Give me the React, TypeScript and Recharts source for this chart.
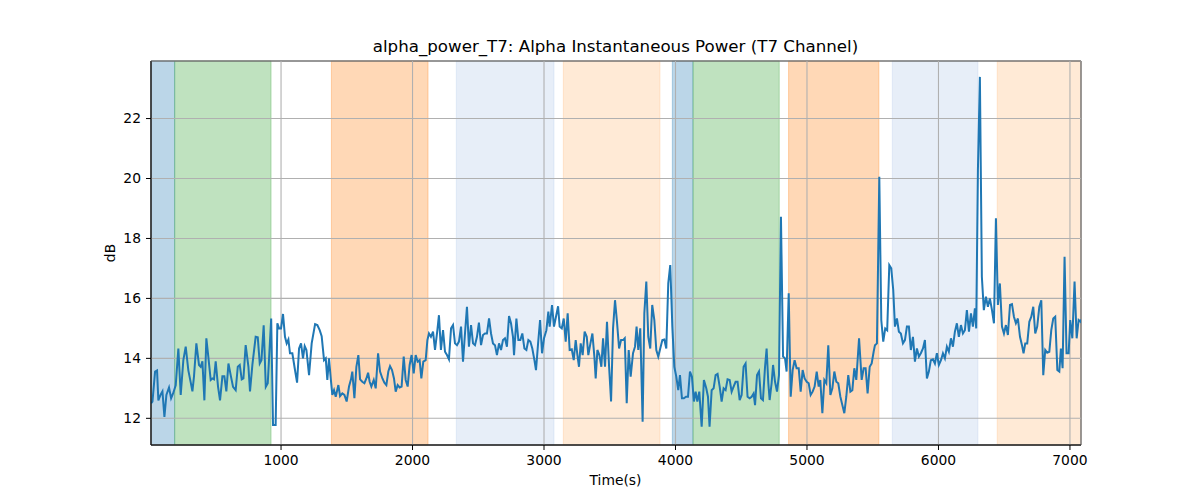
import React from 'react';
import { LineChart, Line, XAxis, YAxis, CartesianGrid, ReferenceArea } from 'recharts';

const times = [
  11, 22, 42, 57, 67, 85, 98, 113, 128, 148, 164, 179, 199, 219, 237, 257, 275, 295, 313, 326,
  338, 356, 376, 389, 402, 417, 432, 447, 465, 478, 490, 503, 521, 536, 554, 569, 584, 600, 617, 635,
  655, 671, 686, 701, 714, 731, 752, 764, 782, 807, 823, 838, 851, 868, 884, 899, 925, 939, 959, 972,
  985, 1000, 1015, 1030, 1043, 1056, 1068, 1086, 1104, 1122, 1137, 1152, 1167, 1180, 1193, 1213, 1233, 1259, 1276, 1294,
  1309, 1327, 1340, 1352, 1365, 1378, 1390, 1403, 1416, 1436, 1449, 1466, 1482, 1499, 1517, 1532, 1542, 1558, 1573, 1588,
  1601, 1618, 1634, 1649, 1662, 1674, 1687, 1705, 1720, 1738, 1753, 1771, 1786, 1801, 1816, 1829, 1844, 1859, 1872, 1887,
  1902, 1917, 1933, 1948, 1963, 1978, 1993, 2009, 2024, 2039, 2054, 2067, 2082, 2100, 2113, 2125, 2140, 2156, 2171, 2189,
  2201, 2216, 2232, 2247, 2262, 2277, 2293, 2308, 2323, 2338, 2353, 2369, 2384, 2399, 2414, 2429, 2445, 2460, 2475, 2490,
  2505, 2521, 2536, 2551, 2566, 2582, 2597, 2612, 2627, 2642, 2658, 2673, 2688, 2703, 2718, 2734, 2749, 2764, 2772, 2790,
  2805, 2820, 2835, 2851, 2866, 2881, 2896, 2911, 2927, 2939, 2955, 2970, 2985, 3000, 3018, 3033, 3043, 3061, 3076, 3091,
  3107, 3119, 3135, 3150, 3165, 3180, 3195, 3211, 3226, 3241, 3254, 3266, 3279, 3294, 3309, 3325, 3337, 3353, 3368, 3383,
  3393, 3406, 3421, 3436, 3449, 3464, 3479, 3495, 3510, 3525, 3540, 3555, 3571, 3586, 3601, 3614, 3629, 3644, 3659, 3677,
  3692, 3704, 3717, 3732, 3750, 3763, 3778, 3793, 3808, 3823, 3839, 3854, 3869, 3884, 3900, 3915, 3930, 3945, 3960, 3976,
  3991, 4006, 4021, 4034, 4049, 4064, 4080, 4095, 4110, 4125, 4140, 4153, 4166, 4181, 4199, 4216, 4234, 4247, 4259, 4275,
  4290, 4305, 4320, 4336, 4351, 4366, 4381, 4396, 4412, 4427, 4442, 4457, 4472, 4488, 4503, 4518, 4533, 4548, 4564, 4579,
  4594, 4605, 4620, 4635, 4650, 4665, 4681, 4693, 4706, 4716, 4731, 4742, 4757, 4772, 4787, 4802, 4818, 4833, 4845, 4861,
  4876, 4891, 4906, 4921, 4937, 4952, 4967, 4982, 4998, 5013, 5028, 5043, 5058, 5074, 5089, 5101, 5117, 5132, 5147, 5162,
  5178, 5193, 5208, 5223, 5238, 5254, 5269, 5284, 5299, 5314, 5330, 5345, 5360, 5375, 5396, 5416, 5431, 5446, 5461, 5477,
  5492, 5507, 5517, 5532, 5550, 5565, 5580, 5595, 5610, 5626, 5641, 5656, 5669, 5684, 5699, 5714, 5730, 5745, 5760, 5775,
  5790, 5806, 5821, 5836, 5851, 5866, 5882, 5897, 5912, 5927, 5942, 5958, 5973, 5988, 6003, 6019, 6034, 6049, 6064, 6079,
  6095, 6110, 6125, 6140, 6155, 6171, 6186, 6201, 6216, 6232, 6247, 6262, 6277, 6287, 6300, 6315, 6330, 6345, 6361, 6376,
  6391, 6407, 6422, 6437, 6452, 6467, 6483, 6498, 6513, 6528, 6544, 6559, 6574, 6589, 6604, 6620, 6635, 6647, 6660, 6675,
  6691, 6706, 6721, 6736, 6751, 6767, 6782, 6797, 6812, 6827, 6843, 6858, 6873, 6888, 6904, 6919, 6931, 6944, 6959, 6974,
  6990, 7002, 7018, 7035, 7051, 7066, 7081, 7084,
];

const values = [
  12.5, 12.56, 13.56, 13.6, 12.6, 12.8, 12.9, 12.05, 12.78, 13.03, 12.67, 12.83, 13.1, 14.33, 12.78, 13.94, 14.39, 13.6, 13.2, 12.9,
  13.4, 14.5, 13.78, 13.72, 13.9, 12.6, 14.67, 14.05, 13.28, 13.33, 13.3, 13.9, 13.05, 12.6, 13.4, 13.4, 12.9, 13.83, 13.44, 13.05,
  12.94, 13.72, 13.78, 13.3, 13.33, 14.44, 13.72, 12.9, 13.78, 14.72, 14.7, 13.83, 13.94, 15.1, 13.05, 13.17, 15.33, 11.78, 11.78, 15.17,
  15.0, 15.0, 15.48, 14.72, 14.5, 14.63, 14.17, 14.17, 13.67, 13.19, 14.33, 14.5, 14.0, 14.41, 14.28, 13.44, 14.5, 15.14, 15.11, 14.94,
  14.74, 13.94, 14.0, 13.28, 14.0, 13.33, 12.78, 12.94, 12.72, 13.11, 12.74, 12.83, 12.78, 12.56, 13.06, 13.3, 13.56, 12.67, 13.72, 14.11,
  13.3, 13.22, 13.17, 13.33, 13.52, 13.22, 13.06, 13.28, 13.0, 14.17, 13.56, 13.33, 13.19, 13.11, 13.56, 13.74, 13.61, 13.33, 12.89, 13.11,
  13.03, 13.06, 14.06, 13.28, 13.06, 13.78, 14.11, 13.5, 14.11, 13.89, 13.94, 13.33, 13.89, 13.94, 14.61, 14.83, 14.72, 14.89, 14.28, 14.94,
  15.44, 14.28, 14.94, 14.22, 14.11, 13.97, 15.0, 15.11, 14.5, 14.44, 14.56, 15.06, 13.89, 14.83, 15.72, 14.39, 15.11, 14.5, 14.44, 14.72,
  15.19, 14.44, 14.78, 14.83, 14.83, 15.33, 14.83, 14.5, 14.44, 14.11, 14.5, 14.28, 14.61, 14.67, 14.39, 15.41, 15.17, 14.72, 14.11, 15.33,
  14.61, 14.61, 14.83, 14.33, 14.28, 14.61, 14.56, 14.33, 13.94, 13.61, 14.5, 15.28, 14.17, 14.67, 14.94, 15.56, 15.06, 15.78, 15.06, 15.39,
  15.74, 15.06, 15.0, 15.33, 14.56, 15.5, 14.28, 14.3, 13.94, 14.61, 14.11, 13.72, 14.5, 14.11, 14.89, 14.72, 14.11, 14.5, 14.83, 14.06,
  13.33, 14.28, 14.11, 13.72, 14.67, 13.72, 15.22, 13.72, 12.56, 15.0, 15.94, 15.22, 14.33, 14.61, 14.61, 14.67, 12.5, 14.28, 13.39, 14.17,
  14.39, 15.06, 14.28, 15.0, 11.89, 15.5, 16.56, 14.72, 14.33, 15.78, 15.28, 14.28, 14.06, 14.33, 14.61, 14.63, 14.33, 16.5, 17.11, 15.06,
  13.72, 13.39, 12.94, 13.44, 12.67, 12.67, 12.72, 12.72, 13.56, 13.39, 12.56, 12.89, 12.56, 12.89, 11.72, 13.28, 13.0, 12.72, 11.72, 12.94,
  13.0, 13.44, 13.48, 13.06, 12.56, 13.0, 12.94, 13.3, 13.28, 12.89, 13.06, 13.22, 13.22, 12.61, 12.78, 13.72, 13.83, 12.72, 12.67, 12.72,
  12.83, 12.44, 13.44, 13.56, 12.67, 12.61, 13.72, 14.33, 13.17, 12.61, 13.17, 13.78, 13.22, 12.89, 13.44, 18.72, 14.06, 14.0, 13.56, 16.17,
  12.72, 13.61, 13.94, 13.67, 13.67, 12.89, 13.61, 13.33, 13.22, 13.17, 12.78, 12.89, 13.06, 13.56, 13.06, 13.28, 12.17, 13.28, 13.17, 14.44,
  12.78, 13.0, 13.56, 13.22, 13.17, 12.72, 12.44, 12.17, 12.72, 13.44, 12.89, 12.94, 13.67, 13.28, 14.67, 13.28, 13.67, 13.67, 12.83, 13.72,
  13.83, 14.22, 14.44, 14.5, 20.06, 15.28, 14.56, 15.0, 14.94, 17.11, 17.0, 16.28, 15.06, 15.33, 14.89, 14.83, 14.5, 14.61, 15.06, 15.06,
  14.28, 14.72, 13.89, 14.33, 14.06, 14.17, 14.33, 14.61, 13.33, 13.56, 13.94, 13.97, 13.83, 14.17, 13.78, 13.94, 14.17, 14.0, 14.39, 14.22,
  14.67, 14.39, 14.89, 15.17, 14.72, 15.11, 14.83, 14.94, 15.61, 14.89, 15.5, 15.06, 15.67, 15.0, 20.28, 23.39, 16.72, 15.61, 16.06, 15.72,
  16.0, 15.61, 15.17, 18.67, 15.78, 16.5, 15.06, 14.83, 15.11, 14.78, 15.78, 15.81, 15.39, 15.17, 15.33, 14.72, 14.44, 14.17, 14.5, 14.5,
  15.22, 15.39, 15.72, 14.83, 15.06, 15.72, 15.94, 13.44, 14.28, 14.19, 14.22, 14.94, 15.33, 15.39, 13.61, 13.56, 14.33, 13.67, 17.39, 14.17,
  14.17, 15.28, 14.67, 16.56, 14.67, 15.28, 15.22, 15.3,
];

const xTicks = [1000, 2000, 3000, 4000, 5000, 6000, 7000];
const yTicks = [12, 14, 16, 18, 20, 22];

const spanStarts = [11, 191, 1383, 2333, 3147, 3976, 4133, 4860, 5649, 6447];
const spanEnds = [191, 924, 2118, 3076, 3882, 4133, 4789, 5547, 6300, 7084];
const spanColors = [
  '#1f77b4', '#2ca02c', '#ff7f0e', '#aec7e8', '#ffbb78',
  '#1f77b4', '#2ca02c', '#ff7f0e', '#aec7e8', '#ffbb78',
];

const xDomain: [number, number] = [11, 7084];
const yDomain: [number, number] = [11.11, 23.92];

const data = times.map((t, i) => ({ t, v: values[i] }));

const FONT = 'DejaVu Sans, sans-serif';
const tickStyle = { fill: '#000', fontSize: 13.89, fontFamily: FONT };

export default function App() {
  const gridProps: any = { stroke: '#b0b0b0', strokeWidth: 1.1, zIndex: 150 };
  return (
    <div style={{ position: 'absolute', left: 0, top: 0, width: 1200, height: 500, background: '#fff', fontFamily: FONT }}>
      <LineChart width={1200} height={500} data={data} margin={{ top: 61, right: 119, bottom: 25, left: 0 }}>
        <CartesianGrid {...gridProps} />
        {spanStarts.map((s, i) => (
          <ReferenceArea
            key={i}
            x1={s}
            x2={spanEnds[i]}
            y1={yDomain[0]}
            y2={yDomain[1]}
            fill={spanColors[i]}
            fillOpacity={0.3}
            stroke={spanColors[i]}
            strokeOpacity={0.3}
            strokeWidth={1}
          />
        ))}
        <XAxis
          dataKey="t"
          type="number"
          domain={xDomain}
          allowDataOverflow
          ticks={xTicks}
          height={30}
          tickSize={5}
          tickMargin={5}
          axisLine={{ stroke: '#000' }}
          tickLine={{ stroke: '#000' }}
          tick={tickStyle}
        />
        <YAxis
          type="number"
          domain={yDomain}
          allowDataOverflow
          ticks={yTicks}
          width={151}
          tickSize={5}
          tickMargin={5}
          axisLine={{ stroke: '#000' }}
          tickLine={{ stroke: '#000' }}
          tick={tickStyle}
        />
        <Line
          dataKey="v"
          type="linear"
          stroke="#1f77b4"
          strokeWidth={2}
          dot={false}
          isAnimationActive={false}
        />
        <ReferenceArea
          x1={xDomain[0]}
          x2={xDomain[1]}
          y1={yDomain[0]}
          y2={yDomain[1]}
          fill="none"
          stroke="#000"
          strokeWidth={1}
        />
      </LineChart>
      <div
        style={{
          position: 'absolute', left: 0, width: 1231, top: 38.5, textAlign: 'center',
          fontSize: 16.67, lineHeight: 1, color: '#000', whiteSpace: 'nowrap',
        }}
      >
        alpha_power_T7: Alpha Instantaneous Power (T7 Channel)
      </div>
      <div
        style={{
          position: 'absolute', left: 0, width: 1231, top: 474, textAlign: 'center',
          fontSize: 13.89, lineHeight: 1, color: '#000',
        }}
      >
        Time(s)
      </div>
      <div
        style={{
          position: 'absolute', left: 110 - 20, top: 253 - 8, width: 40, height: 16,
          lineHeight: '16px', textAlign: 'center', fontSize: 13.89, color: '#000',
          transform: 'rotate(-90deg)',
        }}
      >
        dB
      </div>
    </div>
  );
}
